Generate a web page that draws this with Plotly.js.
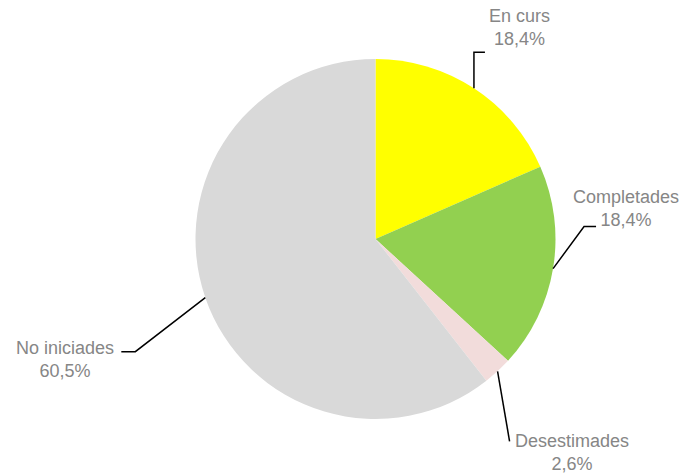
<!DOCTYPE html>
<html>
<head>
<meta charset="utf-8">
<script src="https://cdn.plot.ly/plotly-3.0.1.min.js"></script>
<style>html,body{margin:0;padding:0;background:#fff;}#chart{width:687px;height:475px;}</style>
</head>
<body>
<div id="chart"></div>
<script>
// Data
const categories = ["En curs", "Completades", "Desestimades", "No iniciades"];
const values = [18.4, 18.4, 2.6, 60.5];
const colors = ["#FFFF00", "#92D050", "#F2DCDB", "#D9D9D9"];

// Layout geometry (pixels)
const W = 687, H = 475;
const cx = 375.5, cy = 239, R = 180;
// leader-line elbow offsets relative to slice anchor, horizontal tail, and label centres
const leader = [
  {elbow: [0, -36], tail: 11, text: [519, 27]},
  {elbow: [31, -42], tail: 12, text: [626, 208]},
  {elbow: [12, 70], tail: 0, text: [572, 452]},
  {elbow: [-70, 54], tail: -14, text: [65, 359]}
];

const px = x => x / W;
const py = y => 1 - y / H;

const total = values.reduce((a, b) => a + b, 0);
let cum = 0;
const shapes = [];
const annotations = [];
values.forEach((v, i) => {
  const mid = (cum + v / 2) / total * 2 * Math.PI;
  cum += v;
  const ax = cx + R * Math.sin(mid), ay = cy - R * Math.cos(mid);
  const L = leader[i];
  const ex = ax + L.elbow[0], ey = ay + L.elbow[1];
  const tx = ex + L.tail;
  let path = `M ${px(ax)} ${py(ay)} L ${px(ex)} ${py(ey)}`;
  if (L.tail !== 0) path += ` L ${px(tx)} ${py(ey)}`;
  shapes.push({type: 'path', xref: 'paper', yref: 'paper', path: path,
    line: {color: '#000000', width: 1.5}});
  const pct = v.toFixed(1).replace('.', ',') + '%';
  annotations.push({xref: 'paper', yref: 'paper', x: px(L.text[0]), y: py(L.text[1]),
    xanchor: 'center', yanchor: 'middle', showarrow: false, align: 'center',
    text: categories[i] + '<br>' + pct,
    font: {family: 'Liberation Sans, Arial, sans-serif', size: 18, color: '#868686'}});
});

const trace = {
  type: 'pie',
  labels: categories,
  values: values,
  sort: false,
  direction: 'clockwise',
  rotation: 0,
  textinfo: 'none',
  hoverinfo: 'label+percent',
  marker: {colors: colors, line: {width: 0}},
  domain: {x: [px(cx - R), px(cx + R)], y: [py(cy + R), py(cy - R)]},
  showlegend: false
};

const layout = {
  width: W, height: H,
  margin: {l: 0, r: 0, t: 0, b: 0},
  paper_bgcolor: '#ffffff',
  shapes: shapes,
  annotations: annotations,
  showlegend: false
};

Plotly.newPlot('chart', [trace], layout, {displayModeBar: false, staticPlot: true});
</script>
</body>
</html>
